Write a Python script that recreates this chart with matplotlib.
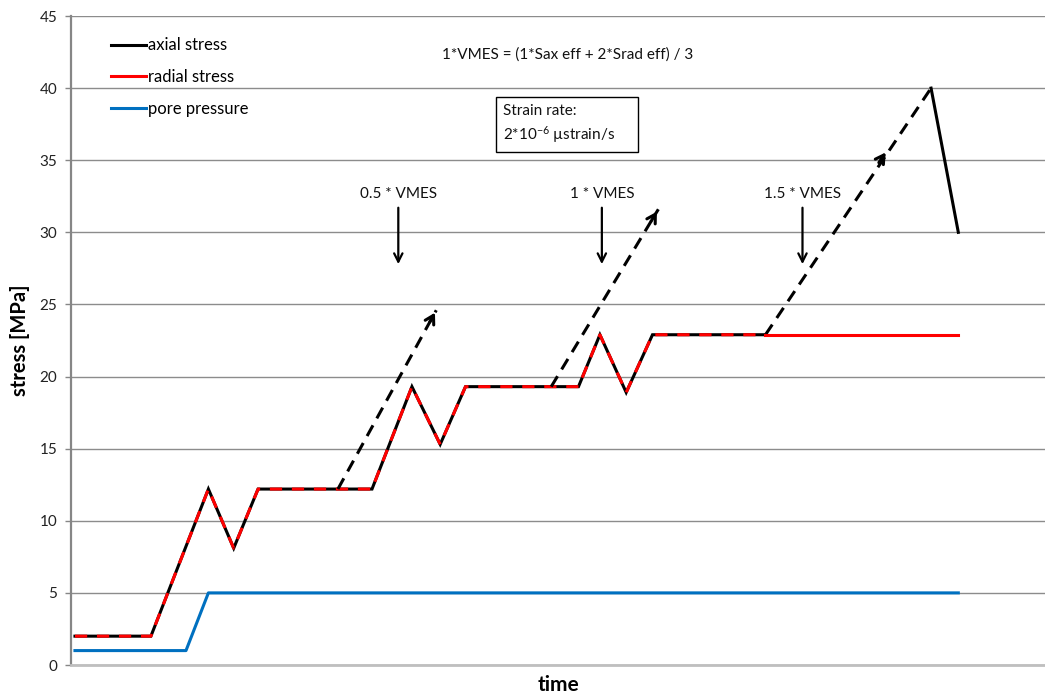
import matplotlib
matplotlib.use("Agg")
import matplotlib.pyplot as plt
from matplotlib.lines import Line2D
from matplotlib.patches import Rectangle

plt.rcParams['font.family'] = ['Lato', 'DejaVu Sans']
plt.rcParams['mathtext.default'] = 'regular'

# loading path (time in arbitrary units, stress in MPa)
t_axial = [0.4, 8.2, 14.1, 16.7, 19.2, 30.9, 35.0, 37.9, 40.5, 52.1, 54.3, 57.0, 59.7, 71.3, 88.3, 91.1]
axial = [2.0, 2.0, 12.2, 8.1, 12.2, 12.2, 19.3, 15.3, 19.3, 19.3, 22.9, 18.9, 22.9, 22.9, 40.0, 30.0]
t_radial = [0.4, 8.2, 14.1, 16.7, 19.2, 30.9, 35.0, 37.9, 40.5, 52.1, 54.3, 57.0, 59.7, 71.3, 91.1]
radial = [2.0, 2.0, 12.2, 8.1, 12.2, 12.2, 19.3, 15.3, 19.3, 19.3, 22.9, 18.9, 22.9, 22.9, 22.9]
t_pore = [0.4, 11.8, 14.1, 91.1]
pore = [1.0, 1.0, 5.0, 5.0]

# shear paths (start, end) for the VMES stages
ramp_start = [(27.4, 12.2), (49.3, 19.3)]
ramp_end = [(37.5, 24.6), (60.3, 31.6)]
ramp3_head = (83.8, 35.7)

vmes_labels = ['0.5 * VMES', '1 * VMES', '1.5 * VMES']
vmes_x = [33.6, 54.5, 75.1]

fig = plt.figure(figsize=(10.45, 6.93), dpi=100)
ax = fig.add_axes([0.068, 0.0404, 0.932, 0.9365])

ax.set_xlim(0, 100)
ax.set_ylim(0, 45)
ax.set_yticks(range(0, 46, 5))
ax.set_xticks([])
ax.grid(axis='y', color='#8c8c8c', lw=1.0)
ax.set_axisbelow(True)
for s in ['top', 'right']:
    ax.spines[s].set_visible(False)
ax.spines['left'].set_color('#868686')
ax.spines['left'].set_linewidth(1.6)
ax.spines['bottom'].set_color('#bfbfbf')
ax.spines['bottom'].set_linewidth(2.0)
ax.tick_params(axis='y', length=4, width=1, color='#868686', labelsize=11, labelcolor='#222222', pad=6)

lw = 2.2
# axial stress: solid up to the last plateau, dashed ramp to failure, then drop
n = 14
ax.plot(t_axial[:n], axial[:n], color='black', lw=lw, solid_joinstyle='miter')
ax.plot(t_axial[n - 1:n + 1], axial[n - 1:n + 1], color='black', lw=lw, dashes=(4, 2.6))
ax.plot(t_axial[n:], axial[n:], color='black', lw=lw)
# radial stress: dashed where it overlies the axial path, solid afterwards
ax.plot(t_radial[:n], radial[:n], color='#ff0000', lw=lw, dashes=(4, 3.2))
ax.plot(t_radial[n - 1:], radial[n - 1:], color='#ff0000', lw=lw)
ax.plot(t_pore, pore, color='#0070c0', lw=lw)

# dashed shear ramps with open heads
for (x0, y0), (x1, y1) in zip(ramp_start, ramp_end):
    ax.plot([x0, x1], [y0, y1], color='black', lw=lw, dashes=(4, 2.6))
    dx, dy = x1 - x0, y1 - y0
    ax.annotate('', xy=(x1, y1), xytext=(x1 - dx * 0.08, y1 - dy * 0.08),
                arrowprops=dict(arrowstyle='->,head_length=0.6,head_width=0.35', color='black', lw=lw))
hx, hy = ramp3_head
dx, dy = t_axial[n] - t_axial[n - 1], axial[n] - axial[n - 1]
ax.annotate('', xy=(hx, hy), xytext=(hx - dx * 0.06, hy - dy * 0.06),
            arrowprops=dict(arrowstyle='->,head_length=0.6,head_width=0.35', color='black', lw=lw))

# stage markers
for lab, x in zip(vmes_labels, vmes_x):
    ax.annotate('', xy=(x, 27.6), xytext=(x, 31.9),
                arrowprops=dict(arrowstyle='->,head_length=0.6,head_width=0.3', color='black', lw=1.6))
    ax.text(x, 32.2, lab, ha='center', va='bottom', fontsize=11, color='#111111')

ax.text(51.0, 42.3, '1*VMES = (1*Sax eff + 2*Srad eff) / 3', ha='center', va='center', fontsize=11, color='#111111')
ax.add_patch(Rectangle((43.6, 35.6), 14.6, 3.8, fill=False, edgecolor='black', lw=1.0, zorder=3))
ax.text(44.3, 37.5, 'Strain rate:\n2*10$^{-6}$ µstrain/s', ha='left', va='center',
        fontsize=11, color='#111111', linespacing=1.4)

handles = [Line2D([], [], color='black', lw=lw),
           Line2D([], [], color='#ff0000', lw=lw),
           Line2D([], [], color='#0070c0', lw=lw)]
ax.legend(handles, ['axial stress', 'radial stress', 'pore pressure'], loc='upper left',
          bbox_to_anchor=(0.026, 0.99), frameon=False, fontsize=12, handlelength=2.1,
          handletextpad=0.1, labelspacing=0.95)

ax.set_ylabel('stress [MPa]', fontsize=14.5, fontweight='bold', labelpad=7)
ax.set_xlabel('time', fontsize=15, fontweight='bold', labelpad=7)

fig.savefig('out.png', dpi=100)
